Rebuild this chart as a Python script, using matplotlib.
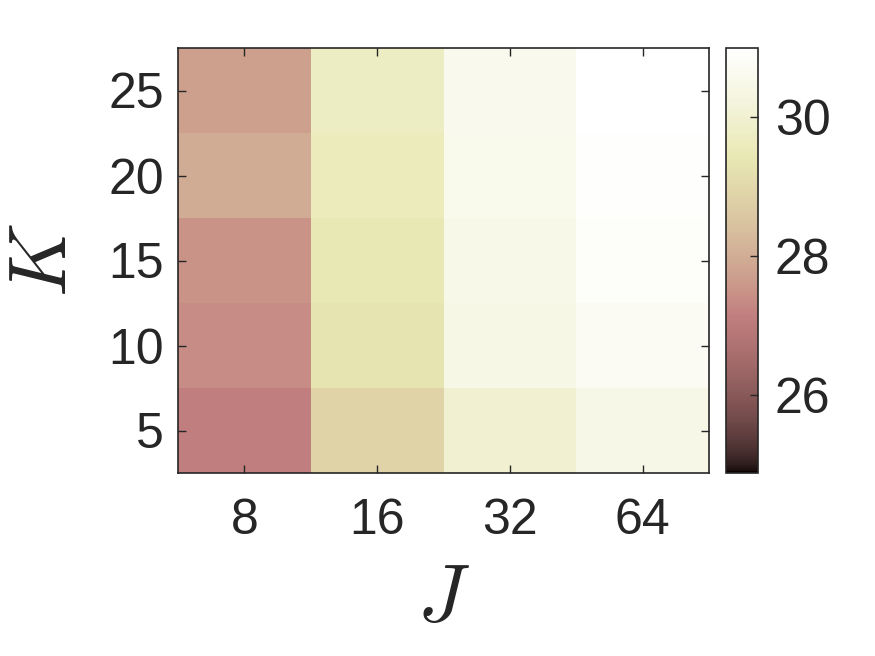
import numpy as np
import matplotlib
matplotlib.use("Agg")
import matplotlib.pyplot as plt
from matplotlib.colors import ListedColormap

plt.rcParams["font.family"] = ["Liberation Sans", "DejaVu Sans"]
plt.rcParams["mathtext.fontset"] = "cm"

# ── Data ──────────────────────────────────────────────────────
J_VALUES = [8, 16, 32, 64]
K_VALUES = [5, 10, 15, 20, 25]

# one row per K (bottom to top), one column per J
SCORE_K5 = [27.12, 28.88, 30.01, 30.45]
SCORE_K10 = [27.38, 29.32, 30.38, 30.70]
SCORE_K15 = [27.49, 29.44, 30.49, 30.87]
SCORE_K20 = [27.97, 29.58, 30.55, 30.94]
SCORE_K25 = [27.73, 29.71, 30.58, 31.00]

CBAR_TICKS = [26, 28, 30]
CLIM = (24.88, 31.0)


# ── MATLAB "pink" colormap ────────────────────────────────────
def matlab_pink(m=256):
    n = int(3 / 8 * m)
    i = np.arange(m)
    r = np.where(i < n, (i + 1) / n, 1.0)
    g = np.clip((i + 1 - n) / n, 0, 1)
    b = np.clip((i + 1 - 2 * n) / (m - 2 * n), 0, 1)
    hot = np.stack([r, g, b], axis=1)
    gray = np.repeat((i / (m - 1))[:, None], 3, axis=1)
    return ListedColormap(np.sqrt((2 * gray + hot) / 3))


grid = np.array([SCORE_K5, SCORE_K10, SCORE_K15, SCORE_K20, SCORE_K25])

W, H = 875, 656
fig = plt.figure(figsize=(W / 100, H / 100), dpi=100)
fig.patch.set_facecolor("white")

ax = fig.add_axes([178 / W, 1 - 473 / H, (709 - 178) / W, (473 - 48) / H])
cax = fig.add_axes([726 / W, 1 - 473 / H, (758 - 726) / W, (473 - 48) / H])

x_edges = np.arange(len(J_VALUES) + 1) + 0.5
k_step = K_VALUES[1] - K_VALUES[0]
y_edges = np.array(K_VALUES + [K_VALUES[-1] + k_step]) - k_step / 2
mesh = ax.pcolormesh(x_edges, y_edges, grid, cmap=matlab_pink(),
                     vmin=CLIM[0], vmax=CLIM[1], shading="flat")

dark = "#262626"
ax.set_xticks(np.arange(1, len(J_VALUES) + 1))
ax.set_xticklabels([str(j) for j in J_VALUES])
ax.set_yticks(K_VALUES)
ax.set_xlim(x_edges[0], x_edges[-1])
ax.set_ylim(y_edges[0], y_edges[-1])
ax.tick_params(axis="both", direction="in", length=6, width=1, color=dark,
               labelcolor=dark, labelsize=36, top=True, right=True)
ax.tick_params(axis="x", pad=18)
ax.tick_params(axis="y", pad=10)
for s in ax.spines.values():
    s.set_color(dark)
    s.set_linewidth(1.2)

cb = fig.colorbar(mesh, cax=cax, ticks=CBAR_TICKS)
cb.outline.set_edgecolor(dark)
cb.outline.set_linewidth(1.2)
cax.tick_params(direction="in", length=6, width=1, color=dark,
                labelcolor=dark, labelsize=36, pad=12)

fig.text(443 / W, 1 - 600 / H, r"$J$", fontsize=58, color=dark,
         ha="center", va="center")
fig.text(45 / W, 1 - 260 / H, r"$K$", fontsize=58, color=dark,
         ha="center", va="center", rotation=90)

fig.savefig("out.png", dpi=100, facecolor="white")
